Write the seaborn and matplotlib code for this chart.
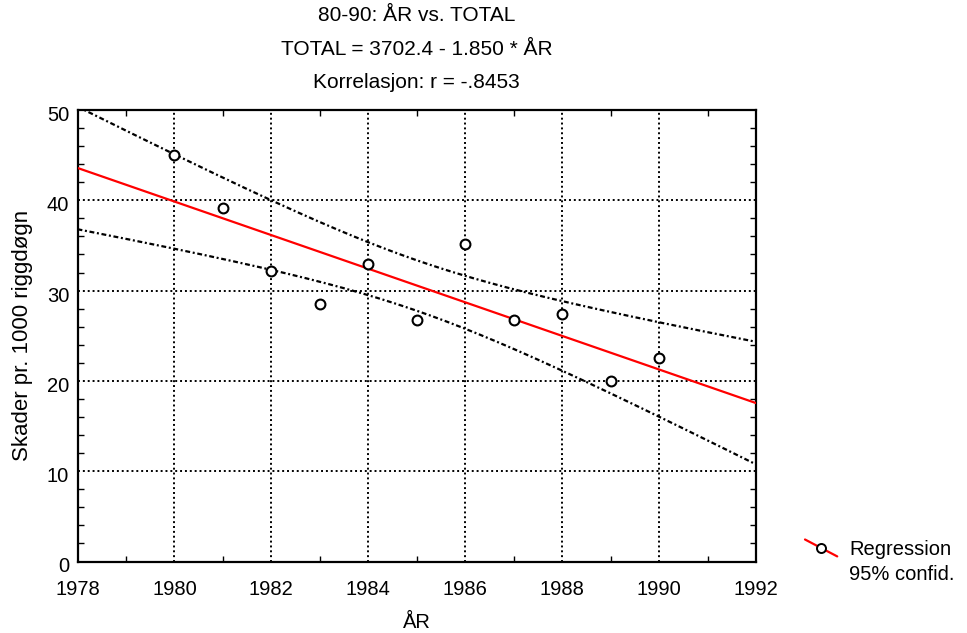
import numpy as np
import pandas as pd
import matplotlib
matplotlib.use("Agg")
import matplotlib.pyplot as plt
import seaborn as sns
from matplotlib.lines import Line2D
from matplotlib.legend_handler import HandlerBase
from matplotlib.ticker import MultipleLocator
from matplotlib.transforms import ScaledTranslation

# ---- data ----
years = [1980, 1981, 1982, 1983, 1984, 1985, 1986, 1987, 1988, 1989, 1990]
total = [45.0, 39.1, 32.2, 28.5, 32.9, 26.7, 35.2, 26.7, 27.4, 20.0, 22.5]
title_lines = ["80-90: ÅR vs. TOTAL",
               "TOTAL = 3702.4 - 1.850 * ÅR",
               "Korrelasjon: r = -.8453"]
x_label = "ÅR"
y_label = "Skader pr. 1000 riggdøgn"
legend_labels = ["Regression", "95% confid."]
x_range = [1978, 1992]
y_range = [0, 50]
T_CRIT = 2.262  # t(0.975, df=9)

sns.set_theme(style="white")
plt.rcParams["font.family"] = ["Liberation Sans", "DejaVu Sans"]

x = np.array(years, dtype=float)
y = np.array(total, dtype=float)
n = len(x)
slope, intercept = np.polyfit(x, y, 1)
resid = y - (intercept + slope * x)
s = np.sqrt(np.sum(resid ** 2) / (n - 2))
sxx = np.sum((x - x.mean()) ** 2)
xs = np.linspace(x_range[0], x_range[1], 200)
fit = intercept + slope * xs
half = T_CRIT * s * np.sqrt(1.0 / n + (xs - x.mean()) ** 2 / sxx)
lines_df = pd.DataFrame({"x": xs, "fit": fit, "lo": fit - half, "hi": fit + half})
pts_df = pd.DataFrame({"ÅR": x, "TOTAL": y})

fig = plt.figure(figsize=(9.67, 6.33), dpi=100)
ax = fig.add_axes([77.5 / 967, 1 - 561.5 / 633, (756 - 77.5) / 967, (561.5 - 110) / 633])

ci_style = (0, (2.2, 1.2, 0.9, 1.2))
sns.lineplot(data=lines_df, x="x", y="hi", ax=ax, color="black", lw=1.6,
             linestyle=ci_style, zorder=3)
sns.lineplot(data=lines_df, x="x", y="lo", ax=ax, color="black", lw=1.6,
             linestyle=ci_style, zorder=3)
sns.lineplot(data=lines_df, x="x", y="fit", ax=ax, color="red", lw=1.6, zorder=4)
sns.scatterplot(data=pts_df, x="ÅR", y="TOTAL", ax=ax, marker="o", s=50,
                facecolor="white", edgecolor="black", linewidth=1.5, zorder=5)

ax.set_xlim(*x_range)
ax.set_ylim(*y_range)
ax.xaxis.set_major_locator(MultipleLocator(2))
ax.xaxis.set_minor_locator(MultipleLocator(1))
ax.yaxis.set_major_locator(MultipleLocator(10))
ax.yaxis.set_minor_locator(MultipleLocator(2))
ax.tick_params(which="both", direction="in", top=True, right=True,
               bottom=True, left=True, color="black")
ax.tick_params(which="major", length=0, labelsize=14.5, labelcolor="black")
ax.tick_params(axis="x", which="major", pad=13.5)
ax.tick_params(axis="y", which="major", pad=6)
ax.tick_params(which="minor", length=4, width=1.0)
ax.grid(True, which="major", color="black", linestyle=(0, (1, 1.5)), lw=1.4)
for sp in ax.spines.values():
    sp.set_color("black")
    sp.set_linewidth(1.6)
    sp.set_visible(True)
for lab in ax.get_yticklabels():
    lab.set_transform(lab.get_transform() +
                      ScaledTranslation(0, -2.5 / 72, fig.dpi_scale_trans))

ax.set_xlabel(x_label, fontsize=14.5, color="black", labelpad=10)
ax.set_ylabel(y_label, fontsize=16, color="black", labelpad=10)
ax.set_title("\n".join(title_lines), fontsize=15, linespacing=1.95, pad=16,
             color="black")


class SlopedHandler(HandlerBase):
    def create_artists(self, legend, orig_handle, xdescent, ydescent, width,
                       height, fontsize, trans):
        x0, x1 = -xdescent, -xdescent + width
        y0, y1 = -ydescent + height * 1.1, -ydescent - height * 0.1
        line = Line2D([x0, x1], [y0, y1], color="red", lw=1.6, transform=trans)
        mk = Line2D([(x0 + x1) / 2], [(y0 + y1) / 2], marker="o", ms=6.5,
                    mfc="white", mec="black", mew=1.4, transform=trans)
        return [line, mk]


h_reg = Line2D([], [], color="red")
h_ci = Line2D([], [], color="none")
leg = fig.legend([h_reg, h_ci], legend_labels, loc="upper left",
                 bbox_to_anchor=(805 / 967, 1 - 540 / 633), frameon=False,
                 fontsize=14.5, handlelength=1.6, handletextpad=0.6,
                 labelspacing=0.32, borderaxespad=0, borderpad=0,
                 handler_map={h_reg: SlopedHandler()})
for t in leg.get_texts():
    t.set_color("black")

fig.savefig("out.png", dpi=100, facecolor="white")
